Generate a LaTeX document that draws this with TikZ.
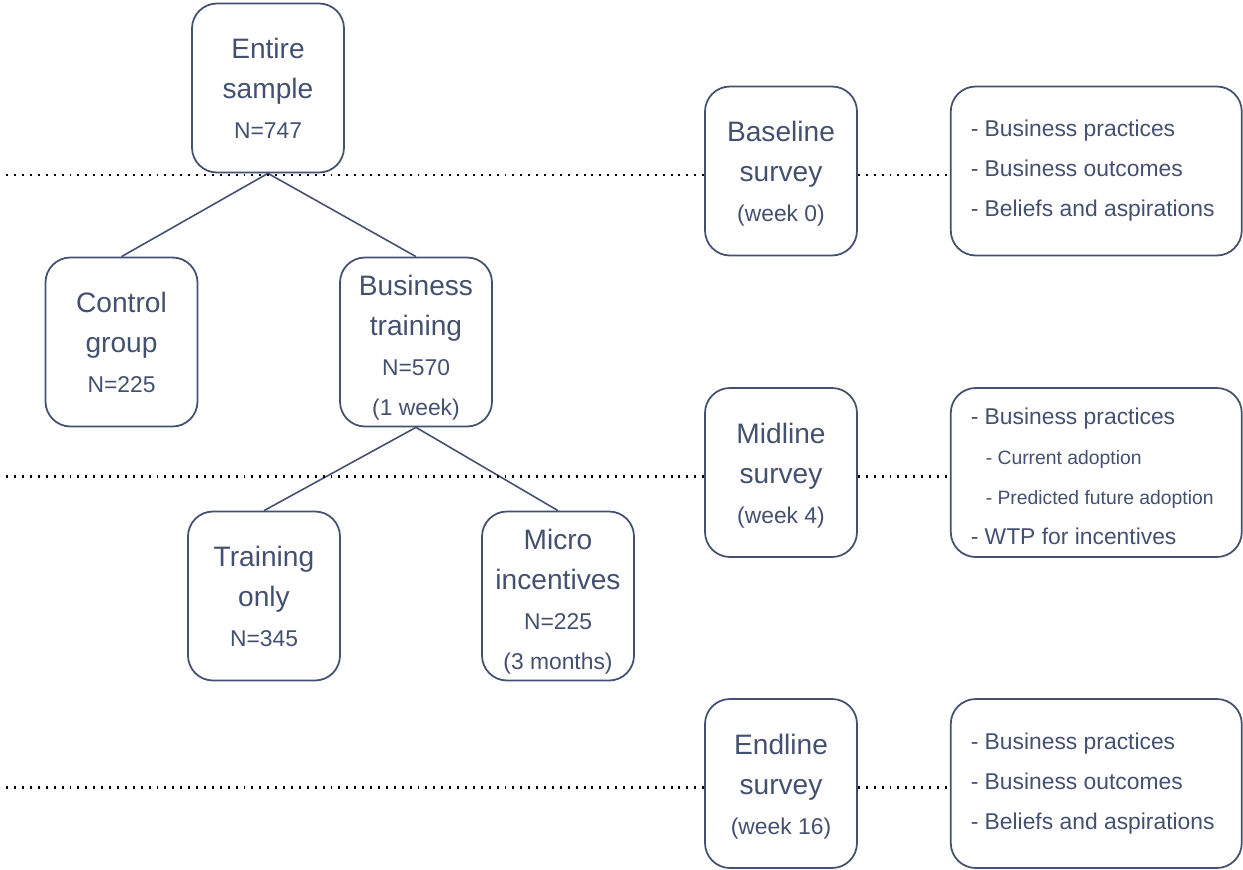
\documentclass[tikz,border=0pt]{standalone}
\usepackage{fontspec}
\setmainfont{Liberation Sans}
\definecolor{Slate}{HTML}{44506F}
\usetikzlibrary{positioning}
\newcommand{\ntext}[1]{{\fontsize{13}{22.76}\selectfont #1}}
\newcommand{\sublist}[1]{{\fontsize{11}{22.76}\selectfont\hspace*{0.3cm}#1}}
% extra room above the first line pushes the text a bit lower in its box
\newcommand{\lift}[1]{\rule{0pt}{#1}}

\begin{document}
\begin{tikzpicture}[
    box/.style={rectangle, rounded corners=0.5cm, draw=Slate, line width=1pt, fill=white, text=Slate, minimum width=3.04cm, minimum height=3.38cm, align=center, font=\fontsize{16}{22.76}\selectfont},
    listbox/.style={box, text width=5.02cm, inner xsep=0.4cm, align=flush left, font=\fontsize{13}{22.76}\selectfont},
    link/.style={draw=Slate, line width=0.9pt},
    guide/.style={black, line width=1.2pt, dash pattern=on 1.1pt off 3.4pt},
]
    \useasboundingbox (0,0) rectangle (24.86,-17.38);

    % treatment tree
    \node[box] (entire) at (5.36,-1.76) {Entire\\sample\\\ntext{N=747}};
    \node[box] (control) at (2.43,-6.84) {Control\\group\\\ntext{N=225}};
    \node[box] (training) at (8.32,-6.84) {\lift{18pt}Business\\training\\\ntext{N=570}\\\ntext{(1 week)}};
    \node[box] (only) at (5.28,-11.92) {Training\\only\\\ntext{N=345}};
    \node[box] (micro) at (11.16,-11.92) {\lift{18pt}Micro\\incentives\\\ntext{N=225}\\\ntext{(3 months)}};

    \draw[link] (entire.south) -- (control.north);
    \draw[link] (entire.south) -- (training.north);
    \draw[link] (training.south) -- (only.north);
    \draw[link] (training.south) -- (micro.north);

    % survey rounds and what they measure
    \node[box] (baseline) at (15.62,-3.42) {\lift{15pt}Baseline\\survey\\\ntext{(week 0)}};
    \node[box] (midline) at (15.62,-9.45) {\lift{15pt}Midline\\survey\\\ntext{(week 4)}};
    \node[box] (endline) at (15.62,-15.67) {\lift{15pt}Endline\\survey\\\ntext{(week 16)}};

    \node[listbox, right=1.84cm of baseline] (baselist) {- Business practices\\- Business outcomes\\- Beliefs and aspirations};
    \node[listbox, right=1.84cm of midline] (midlist) {\lift{13.4pt}- Business practices\\\sublist{- Current adoption}\\\sublist{- Predicted future adoption}\\- WTP for incentives};
    \node[listbox, right=1.84cm of endline] (endlist) {- Business practices\\- Business outcomes\\- Beliefs and aspirations};

    % dotted timeline guides
    \coordinate (edge) at (0.1,0);
    \foreach \s/\l in {baseline/baselist, midline/midlist, endline/endlist} {
        \coordinate (gw) at ([yshift=-0.08cm]\s.west);
        \coordinate (ge) at ([yshift=-0.08cm]\s.east);
        \draw[guide] (gw) -- (gw -| edge);
        \draw[guide] (ge) -- (ge -| \l.west);
    }
\end{tikzpicture}
\end{document}
